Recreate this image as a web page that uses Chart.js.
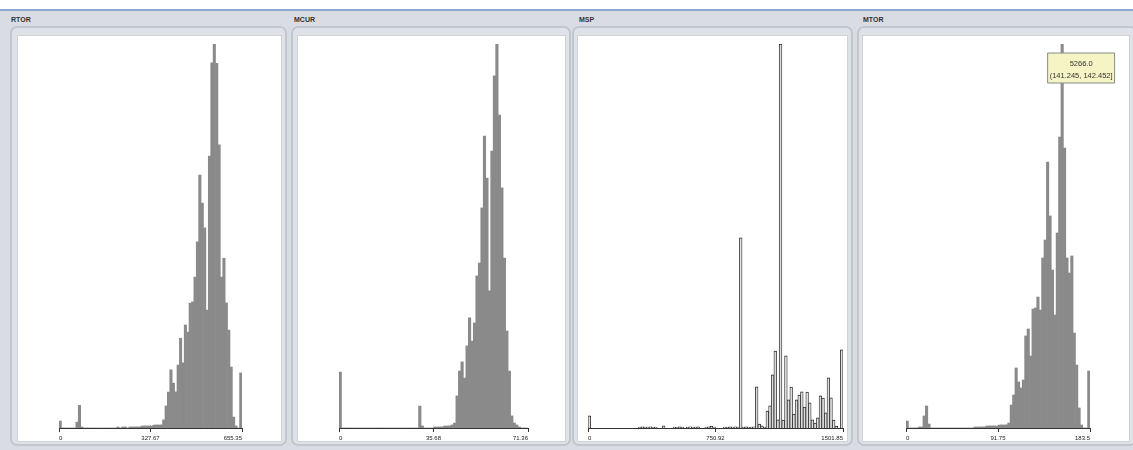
<!DOCTYPE html>
<html><head><meta charset="utf-8">
<script src="https://cdn.jsdelivr.net/npm/chart.js@4.4.1/dist/chart.umd.min.js"></script>
<style>
html,body{margin:0;padding:0;}
body{width:1133px;height:450px;position:relative;overflow:hidden;background:#d9dce2;font-family:"Liberation Sans",Arial,sans-serif;}
#topbar{position:absolute;left:0;top:0;width:1133px;height:9px;background:#fff;}
#topline{position:absolute;left:0;top:9px;width:1133px;height:2px;background:#8ea8d2;}
.title{position:absolute;top:16px;font-size:7px;font-weight:bold;color:#333;line-height:8px;}
.frame{position:absolute;top:26px;height:420px;box-sizing:border-box;border:2px solid #c2c6cd;border-radius:7px;background:#dfe2e7;}
.inner{position:absolute;top:35px;height:407px;background:#fff;box-sizing:border-box;border:1px solid #cfd2d8;}
canvas.hist{position:absolute;top:35px;}
</style></head>
<body>
<div id="topbar"></div><div id="topline"></div>
<div class="title" style="left:11px">RTOR</div>
<div class="title" style="left:294px">MCUR</div>
<div class="title" style="left:579px">MSP</div>
<div class="title" style="left:863px">MTOR</div>
<div class="frame" style="left:10px;width:277px"></div>
<div class="frame" style="left:291px;width:280px"></div>
<div class="frame" style="left:572px;width:281px"></div>
<div class="frame" style="left:857px;width:280px"></div>
<div class="inner" style="left:17px;width:265px"></div>
<div class="inner" style="left:297px;width:269px"></div>
<div class="inner" style="left:577px;width:271px"></div>
<div class="inner" style="left:862px;width:268px"></div>
<canvas class="hist" id="cRTOR" width="265" height="410" style="left:17px"></canvas>
<canvas class="hist" id="cMCUR" width="269" height="410" style="left:297px"></canvas>
<canvas class="hist" id="cMSP" width="271" height="410" style="left:577px"></canvas>
<canvas class="hist" id="cMTOR" width="268" height="410" style="left:862px"></canvas>
<script>
// ---- data ----
const rtorCounts = [138,0,0,0,0,0,0,117,452,21,0,0,0,0,0,0,0,0,0,0,0,0,0,0,
  20,0,19,22,0,20,21,20,22,20,38,41,40,42,39,58,61,60,
  62,163,441,718,1163,897,722,1258,1796,1303,2061,1918,2497,2523,3018,3722,5059,4498,4003,2358,5437,7302,7681,7296,5662,3021,3397,2502,1958,1221,218,41,0,1102];
const mcurCounts = [1118,0,0,0,0,0,0,0,0,0,0,0,0,0,0,0,0,0,0,0,0,0,0,0,0,0,0,0,0,0,0,0,
  438,41,0,0,0,0,19,21,20,22,39,41,42,
  61,98,642,1139,1322,998,1641,2203,1738,2102,3041,3298,4402,5839,4997,2741,5538,7043,7680,6258,4802,3398,1942,1138,241,99,61,20,0,0,0];
const mspCounts = [241,0,0,0,0,0,0,0,0,0,0,0,0,0,0,0,0,0,0,
  20,21,19,20,22,20,19,0,0,41,0,0,0,20,19,21,20,0,20,22,19,20,21,0,0,20,21,39,20,0,0,0,
  20,19,21,20,22,20,3801,20,21,19,20,22,
  822,79,41,20,338,441,1062,1538,161,7680,159,1442,561,818,279,562,658,721,418,719,502,161,99,201,642,598,301,1002,601,158,40,0,1561];
const mtorCounts = [139,0,0,0,0,20,20,238,436,79,0,0,0,0,0,0,0,0,0,0,0,0,0,0,0,0,0,0,
  20,19,21,20,22,39,41,40,42,38,58,61,60,62,
  99,455,653,1188,911,792,950,1822,1960,1426,2356,2376,2594,2336,3366,3722,5266,4198,3128,2237,3861,5762,7603,5544,3366,3069,3406,1881,1247,396,59,0,0,1129];
const rtorTicks = ['0','327.67','655.35'];
const mcurTicks = ['0','35.68','71.36'];
const mspTicks  = ['0','750.92','1501.85'];
const mtorTicks = ['0','91.75','183.5'];
const tipCount = '5266.0';
const tipRange = '(141.245, 142.452]';
const tipLow = 141.245;

// ---- helpers ----
const FONT = '"Liberation Sans", Arial, sans-serif';
Chart.Tooltip.positioners.fixedTip = function(elements) {
  if (!elements.length) return false;
  const ch = this.chart;
  return { x: ch.scales.x.getPixelForValue(tipLow), y: ch.chartArea.top + 9 };
};

const grayStyle = { backgroundColor:'#8a8a8a', hoverBackgroundColor:'#8a8a8a', borderWidth:0, barPercentage:1 };
const mspStyle = { backgroundColor:'#dedede', hoverBackgroundColor:'#dedede', borderColor:'#2a2a2a', hoverBorderColor:'#2a2a2a',
  borderWidth:{top:1,left:0.8,right:0.8,bottom:0}, barPercentage:1 };

function makeHist(id, counts, tickLabels, style, padL, padR, withTip) {
  const axisMax = parseFloat(tickLabels[tickLabels.length - 1]);
  const tickVals = tickLabels.map(parseFloat);
  const binW = axisMax / counts.length;
  const pts = counts.map((c, i) => ({ x: (i + 0.5) * binW, y: c }));
  const cfg = {
    type: 'bar',
    data: { datasets: [Object.assign({ data: pts, categoryPercentage: 1, grouped: false }, style)] },
    options: {
      responsive: false, animation: false, events: [],
      layout: { padding: { left: padL, right: padR, top: 9, bottom: 0 } },
      scales: {
        x: {
          type: 'linear', min: 0, max: axisMax, offset: false,
          afterBuildTicks: s => { s.ticks = tickVals.map(v => ({ value: v })); },
          afterFit: s => { s.height = 17; },
          grid: { display: true, drawOnChartArea: false, drawTicks: true, tickLength: 4, color: '#333', lineWidth: 1, offset: false },
          border: { display: true, color: '#333', width: 1 },
          ticks: { align: 'inner', autoSkip: false, maxRotation: 0, padding: 3, color: '#222',
                   font: { size: 6, family: FONT }, callback: (v, i) => tickLabels[i] }
        },
        y: { display: false, min: 0, max: Math.max(...counts) }
      },
      plugins: {
        legend: { display: false },
        tooltip: withTip ? {
          enabled: true, position: 'fixedTip', xAlign: 'left', yAlign: 'top',
          caretSize: 0, caretPadding: 0, cornerRadius: 0,
          backgroundColor: '#f4f4c4', borderColor: '#8a8a8a', borderWidth: 1,
          titleColor: '#333', bodyColor: '#333',
          titleFont: { size: 7.5, weight: 'normal', family: FONT }, bodyFont: { size: 7.5, family: FONT },
          titleAlign: 'center', bodyAlign: 'center', titleMarginBottom: 3,
          padding: { top: 6, bottom: 3, left: 2, right: 2 }, displayColors: false,
          callbacks: { title: () => tipCount, label: () => tipRange }
        } : { enabled: false }
      }
    }
  };
  const chart = new Chart(document.getElementById(id), cfg);
  if (withTip) {
    const idx = Math.floor(tipLow / binW);
    const el = chart.getDatasetMeta(0).data[idx];
    chart.tooltip.setActiveElements([{ datasetIndex: 0, index: idx }], { x: el.x, y: el.y });
    chart.update();
  }
  return chart;
}

makeHist('cRTOR', rtorCounts, rtorTicks, grayStyle, 42, 40, false);
makeHist('cMCUR', mcurCounts, mcurTicks, grayStyle, 42, 38, false);
makeHist('cMSP',  mspCounts,  mspTicks,  mspStyle, 11, 5, false);
makeHist('cMTOR', mtorCounts, mtorTicks, grayStyle, 44, 40, true);
</script>
</body></html>
